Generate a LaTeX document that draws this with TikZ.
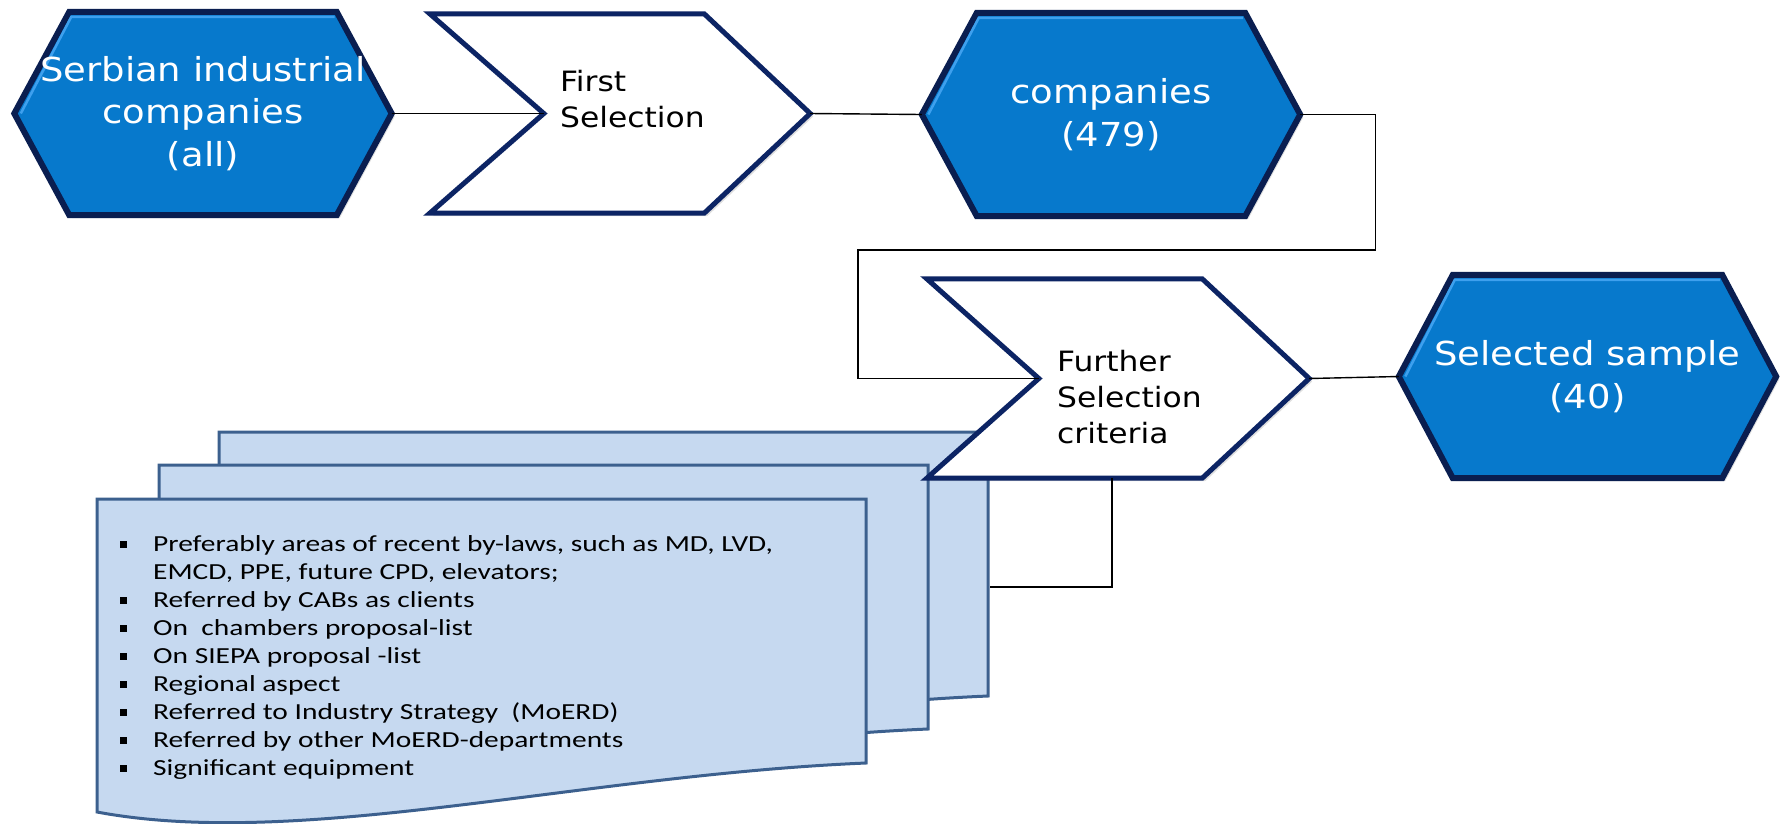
\documentclass[tikz,border=0pt]{standalone}
\usepackage{fontspec}
\usepackage{tikz}
\usetikzlibrary{backgrounds}
\usetikzlibrary{shadows}
\newfontfamily\hexfont[FakeStretch=1.12]{DejaVu Sans}
\newfontfamily\listfont[FakeStretch=1.28]{Carlito}
\definecolor{hexfill}{RGB}{7,121,204}
\definecolor{hexline}{RGB}{10,30,80}
\definecolor{hexhigh}{RGB}{62,160,238}
\definecolor{chevline}{RGB}{12,36,100}
\definecolor{docfill}{RGB}{198,217,240}
\definecolor{docline}{RGB}{60,96,142}
\tikzset{hexnode/.style = {inner sep = 0, minimum width = 377pt, minimum height = 203pt,
                           text = white, align = center,
                           font = \hexfont\fontsize{33}{42.5}\selectfont}}
\tikzset{chevnode/.style = {inner sep = 0, minimum width = 380pt, minimum height = 199pt}}
\tikzset{chevtext/.style = {inner sep = 0, anchor = base west, align = left,
                            font = \hexfont\fontsize{28}{36}\selectfont}}
\tikzset{critlist/.style = {inner sep = 0, align = left,
                            font = \listfont\fontsize{23}{27.9}\selectfont}}
\tikzset{hexagon/.style = {fill = hexfill, draw = hexline, line width = 6pt,
                           drop shadow = {shadow xshift = 3pt, shadow yshift = -3pt,
                                          opacity = 0.25}}}
\tikzset{hexlight/.style = {draw = hexhigh, line width = 2.5pt}}
\tikzset{chevron/.style = {fill = white, draw = chevline, line width = 5pt,
                           drop shadow = {shadow xshift = 3pt, shadow yshift = -3pt,
                                          opacity = 0.25}}}
\tikzset{docpage/.style = {fill = docfill, draw = docline, line width = 3pt}}
\tikzset{link/.style = {draw = black, line width = 1.4pt}}
\newcommand{\hexshape}[2]{%
  \path[hexagon] (#1.west) -- ([xshift=#2]#1.north west) -- ([xshift=-#2]#1.north east)
    -- (#1.east) -- ([xshift=-#2]#1.south east) -- ([xshift=#2]#1.south west) -- cycle;
  \draw[hexlight] ([xshift=6.5pt]#1.west) -- ([xshift=#2+2pt, yshift=-5pt]#1.north west)
    -- ([xshift=-#2-2pt, yshift=-5pt]#1.north east);}
\newcommand{\chevshape}[3]{%
  \path[chevron] (#1.north west) -- ([xshift=-#3]#1.north east) -- (#1.east)
    -- ([xshift=-#3]#1.south east) -- (#1.south west) -- ([xshift=#2]#1.west) -- cycle;}
\newcommand{\sqbul}{\makebox[33.5pt][l]{\rule[3.5pt]{7pt}{7pt}}}
\newcommand{\sqskip}{\makebox[33.5pt]{}}

\begin{document}
\begin{tikzpicture}[x=1pt, y=-1pt]
  \useasboundingbox (0,0) rectangle (1783,823);

  \node[hexnode] (hexA) at (203,113.5) {Serbian industrial\\companies\\(all)};
  \node[chevnode] (selA) at (620,113.5) {};
  \node[hexnode, minimum width=378pt] (hexB) at (1111,114.5) {companies\\(479)};
  \node[chevnode, minimum width=382pt] (selB) at (1118,378.5) {};
  \node[hexnode] (hexC) at (1587.5,376.5) {Selected sample\\(40)};

  \node[chevtext] (selA-text) at (560,127) {First\\Selection};
  \node[chevtext] (selB-text) at (1057,443) {Further\\Selection\\criteria};

  \coordinate (selA-in) at ([xshift=114pt]selA.west);
  \coordinate (selB-in) at ([xshift=112pt]selB.west);
  \coordinate (docC-east) at (990,587);

  \node[critlist, anchor=base west] (crit) at (119.5,775) {%
    \sqbul Preferably areas of recent by-laws, such as MD, LVD,\\
    \sqskip EMCD, PPE, future CPD, elevators;\\
    \sqbul Referred by CABs as clients\\
    \sqbul On\ \ chambers proposal-list\\
    \sqbul On SIEPA proposal -list\\
    \sqbul Regional aspect\\
    \sqbul Referred to Industry Strategy\ \ (MoERD)\\
    \sqbul Referred by other MoERD-departments\\
    \sqbul Significant equipment};

  \begin{pgfonlayer}{background}
    \foreach \dx/\dy in {122/-67, 62/-34, 0/0} {
      \begin{scope}[shift={(\dx,\dy)}]
        \draw[docpage] (97,499) -- (866,499) -- (866,763)
          .. controls (580,775) and (300,850) .. (97,812) -- cycle;
      \end{scope}
    }
    \hexshape{hexA}{55pt}
    \hexshape{hexB}{55pt}
    \hexshape{hexC}{54pt}
    \chevshape{selA}{114pt}{106pt}
    \chevshape{selB}{112pt}{107pt}
  \end{pgfonlayer}

  \draw[link] (hexA.east) -- (selA-in);
  \draw[link] (selA.east) -- (hexB.west);
  \draw[link] (hexB.east) -- ++(75,0) |- (858,250) |- (selB-in);
  \draw[link] (selB.east) -- (hexC.west);
  \draw[link] ([xshift=-6pt]selB.south) |- (docC-east);
\end{tikzpicture}
\end{document}
